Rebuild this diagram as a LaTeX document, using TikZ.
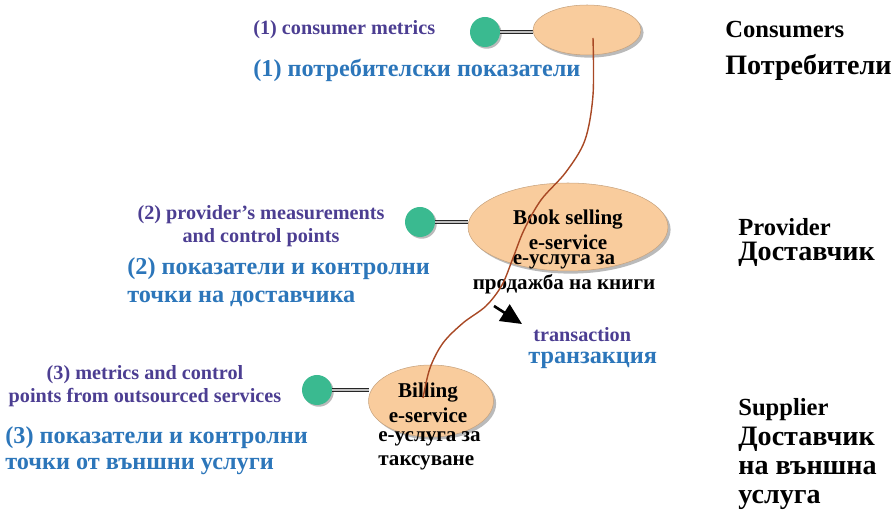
\documentclass[tikz,border=0pt]{standalone}
\usepackage{fontspec}
\setmainfont{Liberation Serif}
\usepackage{tikz}
\usetikzlibrary{arrows.meta,shapes.geometric,shadows}
\usepackage{xcolor}
\definecolor{metriccol}{RGB}{76,62,146}
\definecolor{bulgcol}{RGB}{44,118,186}
\definecolor{servicecol}{RGB}{249,204,157}
\definecolor{pointcol}{RGB}{58,186,144}
\definecolor{flowcol}{RGB}{168,72,36}

\begin{document}
\begin{tikzpicture}[
  x=0.02cm, y=-0.02cm,
  every node/.style={inner sep=0pt},
  metric/.style={font=\fontsize{11.5pt}{13pt}\selectfont\bfseries, text=metriccol},
  bulg/.style={font=\fontsize{13.8pt}{16pt}\selectfont\bfseries, text=bulgcol},
  role/.style={font=\fontsize{14pt}{16pt}\selectfont\bfseries, anchor=west},
  rolebg/.style={font=\fontsize{16pt}{16.5pt}\selectfont\bfseries, anchor=west, align=left},
  svctext/.style={font=\fontsize{12pt}{14pt}\selectfont\bfseries, align=center},
  svc/.style={ellipse, fill=servicecol, draw=servicecol!80!black, line width=0.3pt,
    drop shadow={shadow xshift=1.5pt, shadow yshift=-1.5pt, fill=black!45, opacity=0.6}},
  point/.style={circle, fill=pointcol, minimum size=0.6cm,
    drop shadow={shadow xshift=1pt, shadow yshift=-1pt, fill=black!45, opacity=0.6}},
  link/.style={draw=black!85, double=black!25, double distance=0.8pt, line width=0.7pt},
  flow/.style={draw=flowcol, line width=0.8pt},
  arr/.style={-{Triangle[length=12pt,width=11pt]}, line width=1.5pt},
]
\useasboundingbox (0,0) rectangle (893,519);

% consumers
\node[point] (pt1) at (485,32) {};
\draw[link] (pt1.east) -- (pt1.east -| 533,30);
\node[svc, minimum width=2.16cm, minimum height=1.0cm] (consumer) at (587,30) {};
\node[metric, anchor=west] (m1) at (253,30) {(1) consumer metrics};
\node[bulg, anchor=west] (b1) at (253,70) {(1) потребителски показатели};
\node[role] (c1) at (725,30) {Consumers};
\node[rolebg] (c2) at (725,67) {Потребители};

% provider
\node[point] (pt2) at (420,222) {};
\draw[link] (pt2.east) -- (pt2.east -| 468,227);
\node[svc, minimum width=4.0cm, minimum height=1.76cm] (provider) at (568,227) {};
\node[svctext] (pv1) at (568,229.5) {Book selling\\e-service};
\node[svctext] (pv2) at (564,274) {е-услуга за\\продажба на книги};
\node[metric, align=center] (m2) at (261,226.5) {(2) provider’s measurements\\and control points};
\node[bulg, anchor=west, align=left] (b2) at (127,282) {(2) показатели и контролни\\точки на доставчика};
\node[role] (p1) at (738,227) {Provider};
\node[rolebg] (p2) at (738,254) {Доставчик};

% supplier
\node[point] (pt3) at (317,390) {};
\draw[link] (pt3.east) -- (pt3.east -| 369,401);
\node[svc, minimum width=2.5cm, minimum height=1.44cm] (billing) at (431,401) {};
\node[svctext] (bl1) at (428,402.5) {Billing\\e-service};
\node[svctext, anchor=west, align=left] (bl2) at (378,451) {е-услуга за\\таксуване};
\node[metric, align=center] (m3) at (145,386.5) {(3) metrics and control\\points from outsourced services};
\node[bulg, anchor=west, align=left, font=\fontsize{13.8pt}{14.7pt}\selectfont\bfseries] (b3) at (5,451) {(3) показатели и контролни\\точки от външни услуги};
\node[role] (s1) at (738,410) {Supplier};
\node[rolebg] (s2) at (738,468) {Доставчик\\на външна\\услуга};

% transaction
\coordinate (f0) at (593,38);
\coordinate (f1) at (423,398);
\draw[flow] plot[smooth, tension=0.55] coordinates {(f0) (593,95) (585,140) (566,172) (541,200) (524,230) (513,258) (502,285) (486,306) (463,323) (443,343) (430,368) (f1)};
\coordinate (a0) at (494,306);
\coordinate (a1) at (522,324);
\draw[arr] (a0) -- (a1);
\node[metric, anchor=west] (t1) at (533,335) {transaction};
\node[bulg, anchor=west] (t2) at (528,360) {транзакция};
\end{tikzpicture}
\end{document}
